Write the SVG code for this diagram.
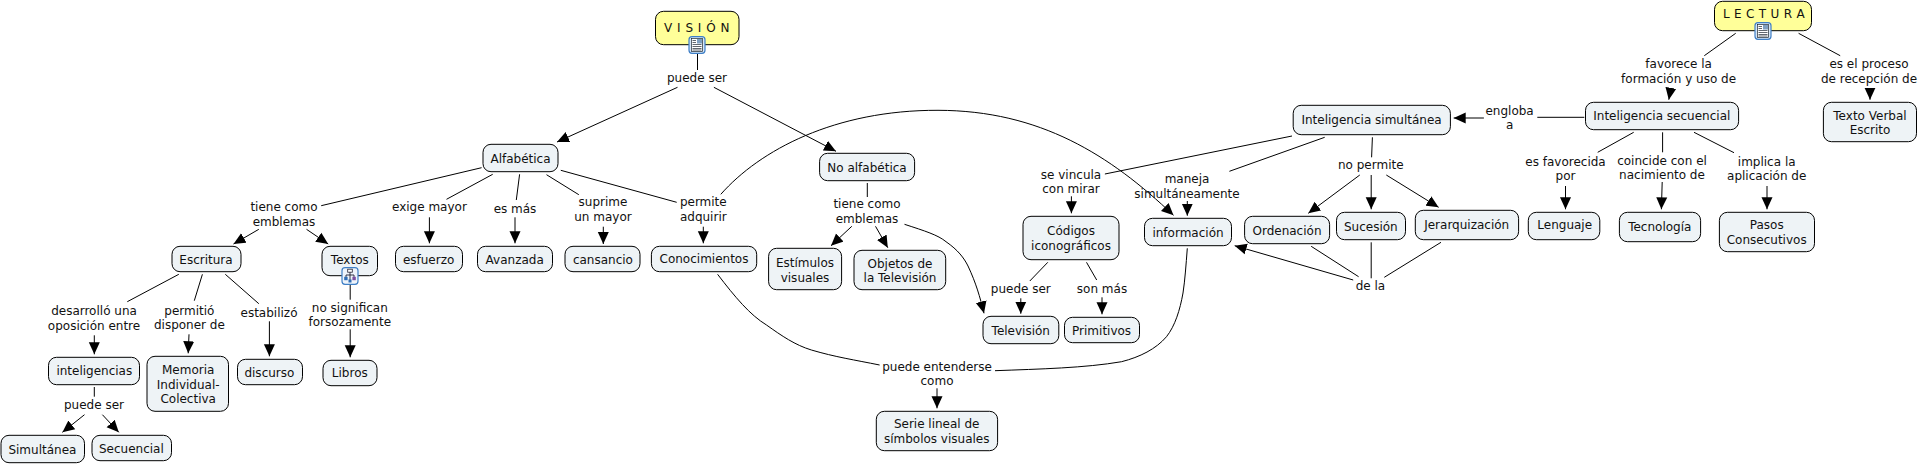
<svg xmlns="http://www.w3.org/2000/svg" width="1921" height="464" viewBox="0 0 1921 464">
<style>
text{font-family:"DejaVu Sans","Liberation Sans",sans-serif;font-size:12px;fill:#111;text-anchor:middle}
.n{fill:#eef3f6;stroke:#000;stroke-width:1}
.y{fill:#ffff99;stroke:#000;stroke-width:1}
.s1{letter-spacing:.5px}
.s2{letter-spacing:.3px}
#connectors path{fill:none;stroke:#000;stroke-width:1}
#connectors .a{marker-end:url(#arrow)}
</style>
<defs>
<marker id="arrow" markerUnits="userSpaceOnUse" markerWidth="13" markerHeight="12" refX="12" refY="6" orient="auto"><path d="M0,0.5L12,6L0,11.5Z" fill="#000"/></marker>
<g id="ic-doc"><rect x="-8" y="-8.3" width="16" height="16.6" rx="3" fill="#d6e6f7" stroke="#3f7fc6" stroke-width="1.2"/><rect x="-5.5" y="-6.5" width="11" height="13" fill="#fff" stroke="#1c2530" stroke-width=".7"/><rect x="0" y="-6" width="5" height="4.5" fill="#7f9fc0"/><path d="M-4.5,-4.5H-1M-4.5,-2.5H-1M-4.5,-.5H4.5M-4.5,1.5H4.5M-4.5,3.5H4.5M-4.5,5H4.5" stroke="#1c2530" stroke-width=".7" fill="none"/></g>
<g id="ic-tree"><rect x="-8" y="-8.3" width="16" height="16.6" rx="3" fill="#eef4fb" stroke="#3f7fc6" stroke-width="1.2"/><path d="M0,-4V0M-4,2V-1H4V2M0,0V4" stroke="#223" stroke-width=".9" fill="none"/><rect x="-2.3" y="-6.8" width="4.6" height="3" fill="#fff" stroke="#223" stroke-width=".8"/><rect x="-5.8" y="0.8" width="3.4" height="3.4" fill="#2f6db5"/><rect x="2.4" y="0.8" width="3.4" height="3.4" fill="#7c4fa0"/><rect x="-1.5" y="3.5" width="3" height="3" fill="#2f6db5"/></g>
</defs>
<rect width="1921" height="464" fill="#fff"/>
<g id="connectors">
<path d="M697.5,53V70"/>
<path class="a" d="M677.5,87.3L557,142"/>
<path class="a" d="M713.9,87.3L836,151.3"/>
<path d="M481.6,167.7L321.2,205.7"/>
<path d="M492.7,174.3L446.5,199.3"/>
<path d="M519.6,174.3L516.3,200"/>
<path d="M546.5,174.7L578.8,194.7"/>
<path d="M560.8,170.3L676.7,202.3"/>
<path class="a" d="M258.8,229.3L233.5,244"/>
<path class="a" d="M306.5,229.3L328.2,244"/>
<path class="a" d="M429.4,217.3V243.3"/>
<path class="a" d="M515,217.3V243.3"/>
<path class="a" d="M603.3,226.7V244"/>
<path class="a" d="M703.3,226.7V243.3"/>
<path d="M178.8,274.3L127.3,301.7"/>
<path d="M202.4,274.3L194.3,300.7"/>
<path d="M225.3,274.3L258.8,303.7"/>
<path class="a" d="M94.3,335.3V354.3"/>
<path class="a" d="M189,334.3L188.2,353.3"/>
<path class="a" d="M269.4,321.3V356.3"/>
<path d="M350.2,285V299.7"/>
<path class="a" d="M350.2,329.3V357.3"/>
<path d="M94.3,387V396.7"/>
<path class="a" d="M84.5,414.7L62.4,432.3"/>
<path class="a" d="M102.4,414.7L118.8,432.3"/>
<path d="M867.3,183V197"/>
<path class="a" d="M851.8,226.3L831,245.7"/>
<path class="a" d="M875.5,226.3L887.8,247.7"/>
<path class="a" d="M904.5,224.3C925,231 938,235 946,241.7C958,250 964,258 968,266C976,283 980,297 984,313.3"/>
<path class="a" d="M720.8,194.3C760,150 835,110 938,110.3C1040,110.5 1110,155 1173.5,215.3"/>
<path d="M717.6,274.3C735,297 750,315 766.5,325C782,336 795,345 811.4,350C835,357 855,360 879.6,365"/>
<path d="M1187.3,248.3C1186,265 1185,280 1183,293C1180,310 1175,326 1166.5,336.7C1156,349 1140,357 1121.6,361.7C1085,368 1040,369 995,370.7"/>
<path class="a" d="M937,388.3V408.3"/>
<path d="M1292,136L1104.9,174"/>
<path d="M1324.7,137.3L1229.4,171.3"/>
<path class="a" d="M1071.4,196.3V213.3"/>
<path class="a" d="M1187.3,201V215.7"/>
<path d="M1047.8,262.3L1029.8,281"/>
<path d="M1086.5,262.3L1096.7,280"/>
<path class="a" d="M1020.8,298.3V313.7"/>
<path class="a" d="M1102,297.3V314.3"/>
<path class="a" d="M1353.2,280L1234.7,245.7"/>
<path d="M1311.2,246.3L1358.6,276.7"/>
<path d="M1371.2,242.3V278.3"/>
<path d="M1441,242.3L1384.3,277.3"/>
<path class="a" d="M1483.9,118H1453.7"/>
<path d="M1584.3,117.3H1537.3"/>
<path d="M1735.7,33.3L1704.3,55.7"/>
<path d="M1798.6,33.3L1840.2,55.7"/>
<path class="a" d="M1670.8,88.5L1668.8,99.7"/>
<path class="a" d="M1870,88.5V99.7"/>
<path d="M1633.7,132.3L1597.7,152.3"/>
<path d="M1662.6,132.3V152.3"/>
<path d="M1694,132.3L1734,152.7"/>
<path class="a" d="M1565.5,186V209.3"/>
<path class="a" d="M1662.2,182L1661.4,209.3"/>
<path class="a" d="M1767,186V209.3"/>
<path d="M1372.4,137.3L1371.6,157.3"/>
<path class="a" d="M1359.8,175L1308.3,213.3"/>
<path class="a" d="M1371.2,175V209.3"/>
<path class="a" d="M1386.3,175L1438.6,207.3"/>
</g>
<g id="labels">
<text x="697" y="81.5">puede ser</text>
<text x="284" y="211">tiene como<tspan x="284" dy="14.7">emblemas</tspan></text>
<text x="429.4" y="211">exige mayor</text>
<text x="515" y="213">es más</text>
<text x="603" y="206">suprime<tspan x="603" dy="14.7">un mayor</tspan></text>
<text x="703.3" y="206">permite<tspan x="703.3" dy="14.7">adquirir</tspan></text>
<text x="94" y="315">desarrolló una<tspan x="94" dy="14.7">oposición entre</tspan></text>
<text x="189.4" y="314.5">permitió<tspan x="189.4" dy="14.7">disponer de</tspan></text>
<text x="269" y="317">estabilizó</text>
<text x="349.8" y="311.5">no significan<tspan x="349.8" dy="14.7">forsozamente</tspan></text>
<text x="94" y="408.5">puede ser</text>
<text x="867" y="208">tiene como<tspan x="867" dy="14.7">emblemas</tspan></text>
<text x="1071" y="178.5">se vincula<tspan x="1071" dy="14.7">con mirar</tspan></text>
<text x="1187" y="183">maneja<tspan x="1187" dy="14.7">simultáneamente</tspan></text>
<text x="1020.8" y="292.5">puede ser</text>
<text x="1102" y="293">son más</text>
<text x="937" y="370.5">puede entenderse<tspan x="937" dy="14.7">como</tspan></text>
<text x="1678.6" y="68">favorece la<tspan x="1678.6" dy="14.7">formación y uso de</tspan></text>
<text x="1869" y="68">es el proceso<tspan x="1869" dy="14.7">de recepción de</tspan></text>
<text x="1509.6" y="114.5">engloba<tspan x="1509.6" dy="14.7">a</tspan></text>
<text x="1565.5" y="165.5">es favorecida<tspan x="1565.5" dy="14.7">por</tspan></text>
<text x="1662" y="164.5">coincide con el<tspan x="1662" dy="14.7">nacimiento de</tspan></text>
<text x="1766.7" y="165.5">implica la<tspan x="1766.7" dy="14.7">aplicación de</tspan></text>
<text x="1370.8" y="169">no permite</text>
<text x="1370.4" y="289.5">de la</text>
</g>
<g id="vision"><rect class="y" x="655.5" y="11.3" width="83.5" height="33.4" rx="8"/><text class="s1" x="697" y="32">V I S I Ó N</text><use href="#ic-doc" x="697" y="45"/></g>
<g id="lectura"><rect class="y" x="1714.5" y="1.3" width="97" height="29.4" rx="8"/><text class="s2" x="1764" y="18">L E C T U R A</text><use href="#ic-doc" x="1763" y="31"/></g>
<g id="alfabetica"><rect class="n" x="483" y="144.3" width="75" height="27.4" rx="8"/><text x="520.5" y="162.5">Alfabética</text></g>
<g id="no-alfabetica"><rect class="n" x="819.6" y="153.3" width="95" height="27.4" rx="8"/><text x="867" y="171.8">No alfabética</text></g>
<g id="escritura"><rect class="n" x="172" y="246.3" width="69" height="25.4" rx="8"/><text x="206" y="263.8">Escritura</text></g>
<g id="textos"><rect class="n" x="322" y="246.3" width="55.5" height="29.4" rx="8"/><text x="349.8" y="264.2">Textos</text><use href="#ic-tree" x="350" y="276"/></g>
<g id="esfuerzo"><rect class="n" x="395.5" y="246.3" width="67" height="25.4" rx="8"/><text x="428.6" y="263.5">esfuerzo</text></g>
<g id="avanzada"><rect class="n" x="477.5" y="246.3" width="75" height="25.4" rx="8"/><text x="514.7" y="263.5">Avanzada</text></g>
<g id="cansancio"><rect class="n" x="565" y="246.3" width="75" height="25.4" rx="8"/><text x="602.9" y="264">cansancio</text></g>
<g id="conocimientos"><rect class="n" x="651.4" y="246.3" width="105.3" height="25.4" rx="8"/><text x="704" y="263.2">Conocimientos</text></g>
<g id="estimulos"><rect class="n" x="768.6" y="248.3" width="73" height="41.4" rx="8"/><text x="805" y="267.2">Estímulos<tspan x="805" dy="14.7">visuales</tspan></text></g>
<g id="objetos"><rect class="n" x="854" y="250.3" width="91.7" height="39.4" rx="8"/><text x="900" y="267.5">Objetos de<tspan x="900" dy="14.7">la Televisión</tspan></text></g>
<g id="inteligencias"><rect class="n" x="48.5" y="357.3" width="91" height="27.4" rx="8"/><text x="94.3" y="374.5">inteligencias</text></g>
<g id="memoria"><rect class="n" x="147" y="356.3" width="81.5" height="55" rx="8"/><text x="188.2" y="373.8">Memoria<tspan x="188.2" dy="14.7">Individual-</tspan><tspan x="188.2" dy="14.7">Colectiva</tspan></text></g>
<g id="discurso"><rect class="n" x="237.5" y="359.3" width="65" height="25.4" rx="8"/><text x="269.4" y="376.5">discurso</text></g>
<g id="libros"><rect class="n" x="323" y="360.3" width="54" height="25.4" rx="8"/><text x="349.8" y="377.2">Libros</text></g>
<g id="simultanea"><rect class="n" x="1" y="435.3" width="83.5" height="27.4" rx="8"/><text x="42.4" y="453.8">Simultánea</text></g>
<g id="secuencial"><rect class="n" x="92" y="435.3" width="79.5" height="25.4" rx="8"/><text x="131.4" y="452.5">Secuencial</text></g>
<g id="codigos"><rect class="n" x="1023" y="216.3" width="96" height="43.4" rx="8"/><text x="1071" y="235.2">Códigos<tspan x="1071" dy="14.7">iconográficos</tspan></text></g>
<g id="informacion"><rect class="n" x="1144.5" y="218.3" width="87" height="27.4" rx="8"/><text x="1188" y="236.8">información</text></g>
<g id="television"><rect class="n" x="983" y="316.3" width="75.8" height="27.4" rx="8"/><text x="1020.8" y="334.8">Televisión</text></g>
<g id="primitivos"><rect class="n" x="1064.5" y="317.3" width="75" height="25.4" rx="8"/><text x="1101.6" y="334.8">Primitivos</text></g>
<g id="serie"><rect class="n" x="876.3" y="411.3" width="121.3" height="39.4" rx="8"/><text x="936.7" y="428.2">Serie lineal de<tspan x="936.7" dy="14.7">símbolos visuales</tspan></text></g>
<g id="ordenacion"><rect class="n" x="1244.6" y="216.3" width="85" height="27.4" rx="8"/><text x="1287" y="234.8">Ordenación</text></g>
<g id="sucesion"><rect class="n" x="1336.5" y="212.3" width="69" height="27.4" rx="8"/><text x="1370.8" y="230.8">Sucesión</text></g>
<g id="jerarquizacion"><rect class="n" x="1415.3" y="210.3" width="103.3" height="29.4" rx="8"/><text x="1466.7" y="229.2">Jerarquización</text></g>
<g id="int-simultanea"><rect class="n" x="1293.2" y="105.3" width="157.2" height="29.4" rx="8"/><text x="1371.6" y="124.2">Inteligencia simultánea</text></g>
<g id="int-secuencial"><rect class="n" x="1585.5" y="102.3" width="153.1" height="27.4" rx="8"/><text x="1661.8" y="119.5">Inteligencia secuencial</text></g>
<g id="texto-verbal"><rect class="n" x="1823.4" y="102.3" width="93.1" height="39.4" rx="8"/><text x="1870" y="119.5">Texto Verbal<tspan x="1870" dy="14.7">Escrito</tspan></text></g>
<g id="lenguaje"><rect class="n" x="1528.3" y="212.3" width="71.5" height="27.4" rx="8"/><text x="1564.7" y="229.2">Lenguaje</text></g>
<g id="tecnologia"><rect class="n" x="1619.4" y="212.3" width="81.2" height="29.4" rx="8"/><text x="1659.8" y="231.2">Tecnología</text></g>
<g id="pasos"><rect class="n" x="1719.4" y="212.3" width="95.1" height="39.4" rx="8"/><text x="1766.7" y="229.2">Pasos<tspan x="1766.7" dy="14.7">Consecutivos</tspan></text></g>
</svg>
